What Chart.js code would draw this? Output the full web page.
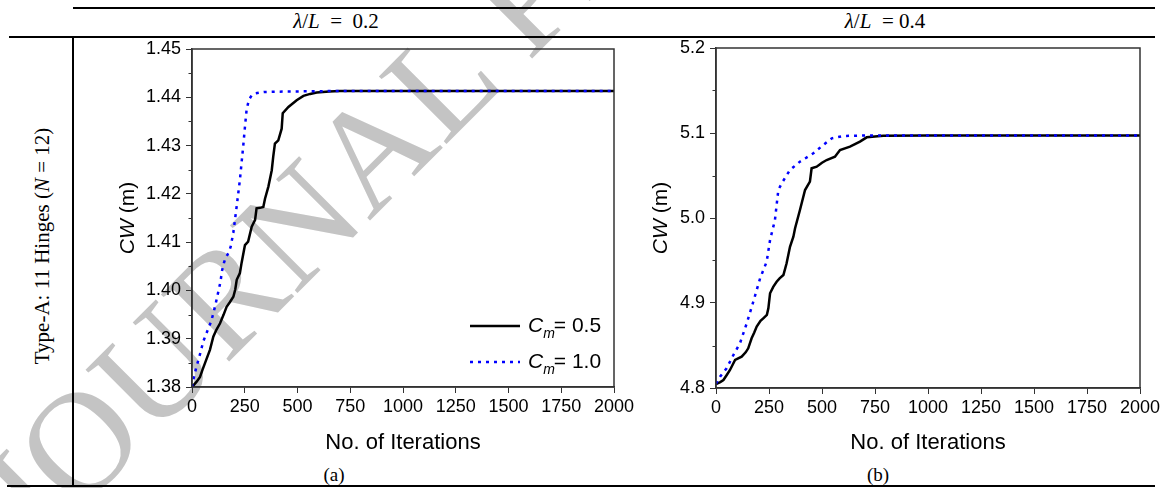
<!DOCTYPE html>
<html>
<head>
<meta charset="utf-8">
<title>CW vs iterations</title>
<script src="https://cdn.jsdelivr.net/npm/chart.js"></script>
<style>
  body { margin: 0; width: 1167px; height: 488px; overflow: hidden; background: #fff; position: relative; font-family: "Liberation Serif", "Times New Roman", serif; }
  .rule { position: absolute; background: #000; }
  .cap { position: absolute; text-align: center; white-space: nowrap; color: #000; }
  .wm { position: absolute; left: -50px; top: 468px; font-family: "Liberation Serif", serif; font-size: 146px; line-height: 1; color: #c4c4c4; transform: rotate(-45deg); transform-origin: 0 0; white-space: nowrap; }
  canvas { position: absolute; }
</style>
</head>
<body>
  <div class="wm">JOURNAL PRE-PROOF</div>

  <div class="rule" style="left:73px; top:7px; width:1082px; height:1.5px"></div>
  <div class="rule" style="left:9px; top:36px; width:1146px; height:1.5px"></div>
  <div class="rule" style="left:72px; top:36px; width:1.5px; height:450px"></div>
  <div class="rule" style="left:7px; top:485px; width:1148px; height:1.5px"></div>

  <div class="cap" style="left:186px; top:9px; width:300px; font-size:21px; line-height:24px"><i>λ</i>/<i>L</i>&nbsp; = &nbsp;0.2</div>
  <div class="cap" style="left:735px; top:9px; width:300px; font-size:21px; line-height:24px"><i>λ</i>/<i>L</i>&nbsp; = 0.4</div>
  <div class="cap" style="left:-108px; top:234px; width:300px; font-size:21px; line-height:24px; transform:rotate(-90deg)">Type-A: 11 Hinges (<i>N</i> = 12)</div>
  <div class="cap" style="left:284px; top:463px; width:100px; font-size:19px; line-height:24px">(a)</div>
  <div class="cap" style="left:828px; top:463px; width:100px; font-size:19px; line-height:24px">(b)</div>

  <canvas id="chartA" width="560" height="440" style="left:80px; top:30px"></canvas>
  <canvas id="chartB" width="570" height="440" style="left:600px; top:30px"></canvas>

<script>
// ---- data ----
// (a) lambda/L = 0.2
const iterA05 = [0, 10, 22, 38, 50, 62, 85, 101, 115, 133, 150, 164, 180, 196, 205, 212, 227, 235, 245, 251, 266, 283, 299, 306, 322, 338, 346, 362, 378, 385, 393, 409, 425, 430, 457, 496, 528, 560, 591, 650, 701, 800, 1000, 1500, 2000];
const cwA05 = [1.3800, 1.3805, 1.3811, 1.3821, 1.3836, 1.3850, 1.3877, 1.3904, 1.3918, 1.3932, 1.3950, 1.3966, 1.3976, 1.3987, 1.4002, 1.4022, 1.4036, 1.4057, 1.4080, 1.4094, 1.4101, 1.4132, 1.4146, 1.4170, 1.4171, 1.4173, 1.4190, 1.4215, 1.4249, 1.4277, 1.4304, 1.4311, 1.4335, 1.4367, 1.4380, 1.4394, 1.4403, 1.4407, 1.4410, 1.4412, 1.4413, 1.4413, 1.4413, 1.4413, 1.4413];
const iterA10 = [0, 8, 20, 38, 54, 70, 90, 101, 115, 125, 135, 142, 152, 160, 172, 183, 196, 212, 227, 243, 251, 259, 270, 283, 300, 340, 450, 700, 1000, 2000];
const cwA10 = [1.3800, 1.3818, 1.3840, 1.3868, 1.3895, 1.3913, 1.3935, 1.3952, 1.3978, 1.3998, 1.4018, 1.4040, 1.4058, 1.4068, 1.4077, 1.4090, 1.4120, 1.4175, 1.4229, 1.4300, 1.4339, 1.4375, 1.4395, 1.4404, 1.4408, 1.4411, 1.4412, 1.4413, 1.4413, 1.4413];

// (b) lambda/L = 0.4
const iterB05 = [0, 20, 35, 50, 66, 90, 121, 140, 152, 168, 180, 192, 210, 223, 240, 247, 255, 270, 286, 300, 318, 333, 349, 365, 373, 396, 420, 443, 451, 475, 500, 522, 561, 585, 632, 679, 711, 789, 1000, 1500, 2000];
const cwB05 = [4.8047, 4.8070, 4.8094, 4.8150, 4.8212, 4.8330, 4.8369, 4.8420, 4.8467, 4.8585, 4.8650, 4.8722, 4.8790, 4.8820, 4.8860, 4.8937, 4.9114, 4.9190, 4.9250, 4.9290, 4.9329, 4.9467, 4.9662, 4.9780, 4.9880, 5.0094, 5.0329, 5.0427, 5.0585, 5.0604, 5.0650, 5.0682, 5.0721, 5.0800, 5.0839, 5.0898, 5.0949, 5.0968, 5.0970, 5.0970, 5.0970];
const iterB10 = [0, 19, 50, 82, 113, 145, 176, 208, 239, 255, 278, 294, 310, 349, 396, 459, 506, 546, 600, 700, 1000, 2000];
const cwB10 = [4.8050, 4.8133, 4.8231, 4.8388, 4.8526, 4.8761, 4.9015, 4.9290, 4.9486, 4.9741, 4.9976, 5.0329, 5.0408, 5.0565, 5.0663, 5.0761, 5.0859, 5.0937, 5.0965, 5.0970, 5.0970, 5.0970];

const cmLabels = ["0.5", "1.0"];
const xTitle = "No. of Iterations";
const xRange = [0, 2000, 250];
const yRangeA = [1.38, 1.45, 0.01];
const yRangeB = [4.8, 5.2, 0.1];

const AXIS = "#333";
const SANS = "'Liberation Sans', Arial, sans-serif";
Chart.defaults.font.family = SANS;
Chart.defaults.color = "#000";

function pts(xs, ys) {
  return xs.map((x, i) => ({ x: x, y: ys[i] }));
}

// frame, minor y ticks, y title with italic "CW", optional legend
const decorPlugin = {
  id: "decor",
  afterDraw(chart, args, opts) {
    const { ctx, chartArea: a, scales } = chart;
    ctx.save();
    ctx.strokeStyle = AXIS;
    ctx.lineWidth = 1.5;
    ctx.strokeRect(a.left, a.top, a.right - a.left, a.bottom - a.top);

    const ys = scales.y;
    ctx.beginPath();
    for (let i = 0; i < ys.ticks.length - 1; i++) {
      const py = Math.round(ys.getPixelForValue((ys.ticks[i].value + ys.ticks[i + 1].value) / 2)) + 0.5;
      ctx.moveTo(a.left - 3.5, py);
      ctx.lineTo(a.left, py);
    }
    ctx.lineWidth = 1;
    ctx.stroke();

    // y title
    ctx.save();
    ctx.translate(opts.titleX, (a.top + a.bottom) / 2);
    ctx.rotate(-Math.PI / 2);
    ctx.fillStyle = "#000";
    ctx.textBaseline = "middle";
    ctx.textAlign = "left";
    ctx.font = "italic 21px " + SANS;
    const w1 = ctx.measureText("CW").width;
    ctx.font = "21px " + SANS;
    const w2 = ctx.measureText(" (m)").width;
    let x0 = -(w1 + w2) / 2;
    ctx.font = "italic 21px " + SANS;
    ctx.fillText("CW", x0, 0);
    ctx.font = "21px " + SANS;
    ctx.fillText(" (m)", x0 + w1, 0);
    ctx.restore();

    if (opts.legend) {
      const L = opts.legend;
      chart.data.datasets.forEach((ds, i) => {
        const y = L.ys[i];
        ctx.save();
        ctx.strokeStyle = ds.borderColor;
        ctx.lineWidth = ds.borderWidth;
        ctx.setLineDash(ds.borderDash || []);
        ctx.beginPath();
        ctx.moveTo(L.x, y);
        ctx.lineTo(L.x + 50, y);
        ctx.stroke();
        ctx.restore();
        let tx = L.x + 58;
        ctx.fillStyle = "#000";
        ctx.textBaseline = "middle";
        ctx.textAlign = "left";
        ctx.font = "italic 21px " + SANS;
        ctx.fillText("C", tx, y);
        tx += ctx.measureText("C").width;
        ctx.font = "italic 14px " + SANS;
        ctx.fillText("m", tx, y + 8);
        tx += ctx.measureText("m").width - 1;
        ctx.font = "21px " + SANS;
        ctx.fillText("= " + ds.label, tx, y);
      });
    }
    ctx.restore();
  }
};

function makeChart(id, d05, d10, yr, dec, pad, yWidth, xHeight, opts) {
  return new Chart(document.getElementById(id), {
    type: "line",
    data: {
      datasets: [
        { label: cmLabels[0], data: d05, borderColor: "#000", borderWidth: 2.5, pointRadius: 0, fill: false, tension: 0, order: 2 },
        { label: cmLabels[1], data: d10, borderColor: "#0000ff", borderWidth: 2.5, borderDash: [3, 5], pointRadius: 0, fill: false, tension: 0, order: 1 }
      ]
    },
    options: {
      responsive: false,
      animation: false,
      layout: { padding: pad },
      plugins: { legend: { display: false }, tooltip: { enabled: false }, decor: opts },
      scales: {
        x: {
          type: "linear",
          min: xRange[0], max: xRange[1],
          ticks: { stepSize: xRange[2], padding: 3, font: { size: 18 }, maxRotation: 0, callback: (v) => String(v) },
          grid: { drawOnChartArea: false, tickLength: 6, color: AXIS, tickWidth: 1 },
          border: { color: AXIS, width: 1.5 },
          title: { display: true, text: xTitle, font: { size: 22 }, padding: { top: 0, bottom: 14 } },
          afterFit: (s) => { s.height = xHeight; }
        },
        y: {
          type: "linear",
          min: yr[0], max: yr[1],
          ticks: { stepSize: yr[2], padding: 5, font: { size: 18 }, callback: (v) => Number(v).toFixed(dec) },
          grid: { drawOnChartArea: false, tickLength: 6, color: AXIS, tickWidth: 1 },
          border: { color: AXIS, width: 1.5 },
          afterFit: (s) => { s.width = yWidth; }
        }
      }
    },
    plugins: [decorPlugin]
  });
}

makeChart("chartA", pts(iterA05, cwA05), pts(iterA10, cwA10), yRangeA, 2,
  { left: 0, top: 19, right: 26, bottom: 0 }, 112, 83,
  { titleX: 48, legend: { x: 390, ys: [296, 332] } });

makeChart("chartB", pts(iterB05, cwB05), pts(iterB10, cwB10), yRangeB, 1,
  { left: 0, top: 18, right: 30, bottom: 0 }, 116, 82,
  { titleX: 61 });
</script>
</body>
</html>
